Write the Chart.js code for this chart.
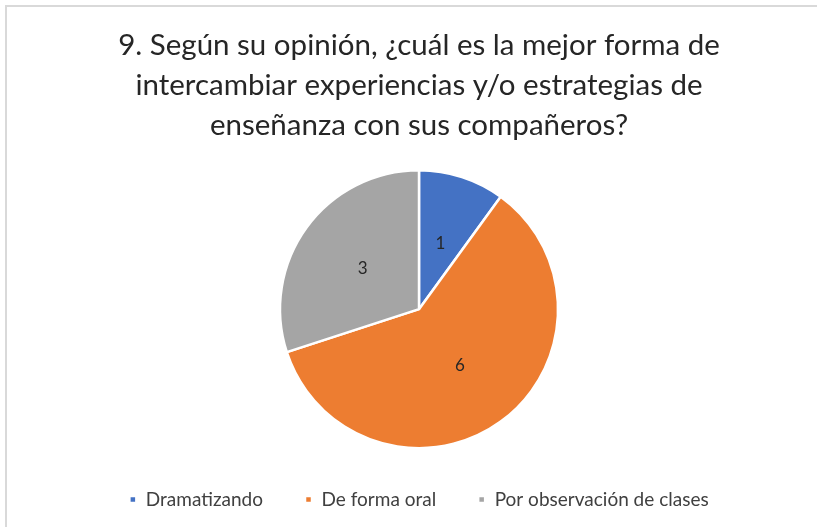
<!doctype html>
<html lang="es">
<head>
<meta charset="utf-8">
<title>Pregunta 9</title>
<script src="https://cdn.jsdelivr.net/npm/chart.js"></script>
<style>
    html, body { margin: 0; padding: 0; background: #fff; overflow: hidden; }
    #frame {
        position: absolute;
        left: 5px; top: 5px;
        width: 830px; height: 540px;
        border: 2px solid #d9d9d9;
    }
    #wrap {
        position: absolute;
        left: 5px; top: 5px;
        width: 828px; height: 522px;
    }
</style>
</head>
<body>
<div id="frame"></div>
<div id="wrap"><canvas id="pie"></canvas></div>
<script>
    const Labels = ['Dramatizando', 'De forma oral', 'Por observación de clases']
    const Values = [1, 6, 3]
    const Colors = ['#4472c4', '#ed7d31', '#a5a5a5']
    const TitleLines = [
        '9. Según su opinión, ¿cuál es la mejor forma de',
        'intercambiar experiencias y/o estrategias de',
        'enseñanza con sus compañeros?'
    ]

    // numbers inside the slices
    const SliceLabels = {
        id: 'sliceLabels',
        afterDatasetsDraw(chart) {
            const ctx = chart.ctx
            const meta = chart.getDatasetMeta(0)
            ctx.save()
            ctx.font = '17px Lato, sans-serif'
            ctx.fillStyle = '#262626'
            ctx.textAlign = 'center'
            ctx.textBaseline = 'middle'
            meta.data.forEach((arc, i) => {
                const p = arc.tooltipPosition()
                ctx.fillText(String(Values[i]), p.x, p.y)
            })
            ctx.restore()
        }
    }

    new Chart(document.getElementById('pie'), {
        type: 'pie',
        data: {
            labels: Labels,
            datasets: [{
                data: Values,
                backgroundColor: Colors,
                borderColor: '#ffffff',
                borderWidth: 2.5,
                radius: 139
            }]
        },
        options: {
            responsive: true,
            maintainAspectRatio: false,
            animation: false,
            layout: { padding: { bottom: 8 } },
            plugins: {
                title: {
                    display: true,
                    text: TitleLines,
                    color: '#262626',
                    font: { family: 'Lato, sans-serif', size: 29.5, weight: 'normal', lineHeight: 1.36 },
                    padding: { top: 20, bottom: 25 }
                },
                legend: {
                    position: 'bottom',
                    labels: {
                        color: '#404040',
                        font: { family: 'Lato, sans-serif', size: 19 },
                        boxWidth: 7,
                        boxHeight: 7,
                        padding: 42
                    }
                },
                tooltip: { enabled: false }
            }
        },
        plugins: [SliceLabels]
    })
</script>
</body>
</html>
